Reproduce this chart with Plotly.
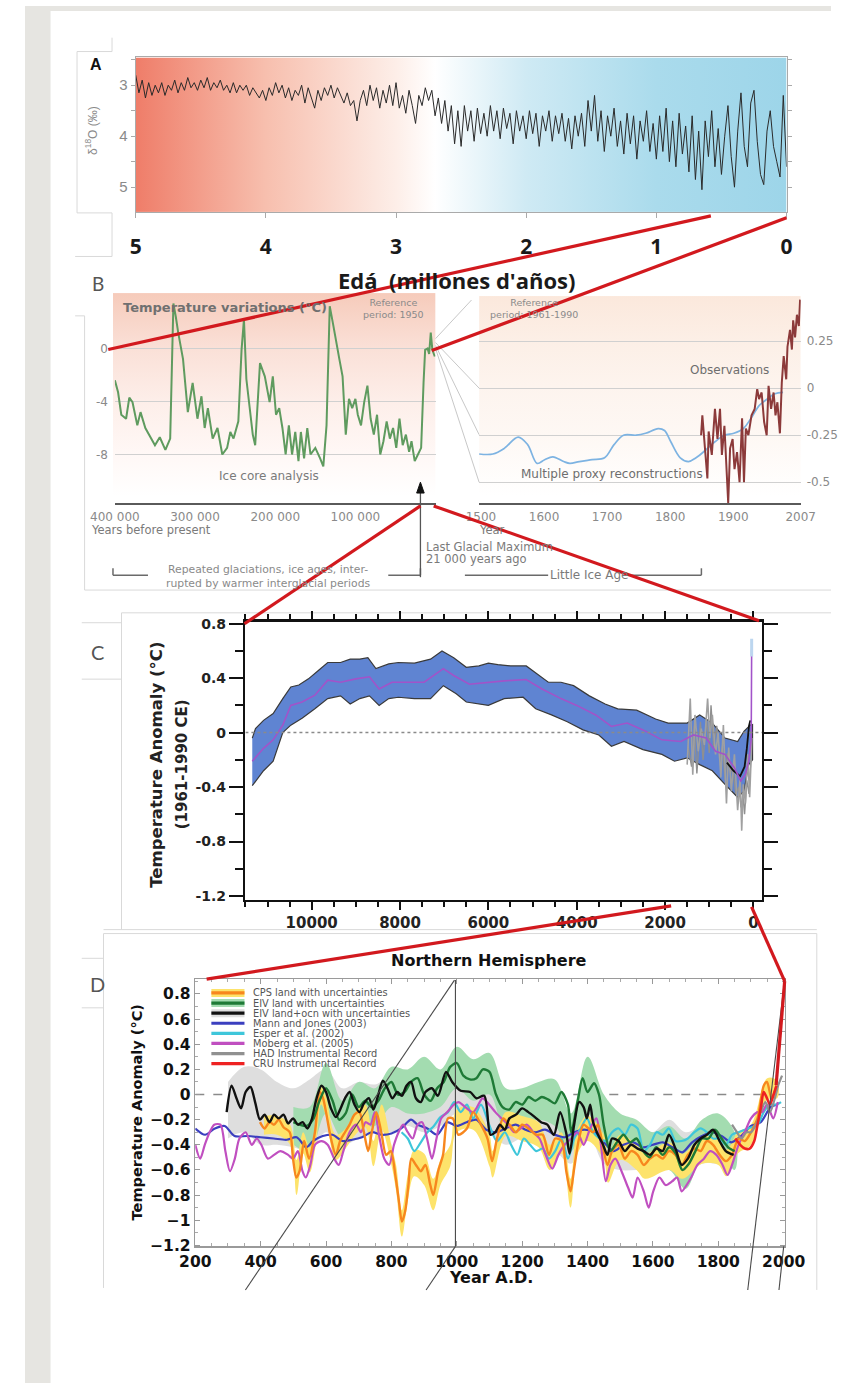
import base64
import numpy as np
import plotly.graph_objects as go

W, H = 852, 1391


def fx(p):
    return p / W


def fy(p):
    return 1 - p / H


# ======================= DATA =======================
# Panel A: benthic d18O stack (per mil), 5 Ma -> 0, step 0.025 Ma
a_d18o = [
    2.8, 3.15, 2.9, 3.25, 2.95, 3.2, 3.0, 3.15, 2.95, 3.2,
    3.0, 3.1, 2.9, 3.15, 2.95, 3.1, 2.85, 3.05, 2.95, 3.1,
    2.9, 3.05, 2.85, 3.1, 2.95, 3.05, 2.9, 3.1, 3.0, 3.15,
    2.95, 3.15, 3.0, 3.1, 3.0, 3.2, 3.05, 3.15, 3.25, 3.1,
    3.3, 3.05, 3.2, 2.95, 3.15, 3.0, 3.25, 3.05, 3.3, 3.1,
    3.2, 3.0, 3.35, 3.05, 3.25, 3.45, 3.1, 3.3, 3.05, 3.2,
    3.0, 3.25, 3.05, 3.2, 3.35, 3.15, 3.4, 3.3, 3.7, 3.3,
    3.1, 3.4, 3.0, 3.3, 3.05, 3.45, 3.1, 3.35, 3.0, 3.4,
    2.95, 3.45, 3.2, 3.55, 3.1, 3.4, 3.75, 3.2, 3.4, 3.05,
    3.3, 3.1, 3.6, 3.25, 3.75, 3.3, 3.9, 3.4, 4.15, 3.5,
    4.2, 3.4, 3.9, 3.5, 4.1, 3.45, 3.95, 3.55, 4.0, 3.4,
    3.9, 3.5, 4.05, 3.45, 3.85, 3.55, 4.15, 3.5, 3.9, 3.6,
    4.05, 3.5, 3.95, 3.55, 4.2, 3.6, 3.9, 3.5, 4.1, 3.6,
    3.95, 3.55, 4.1, 3.65, 4.25, 3.6, 4.0, 3.55, 4.2, 3.3,
    3.9, 3.2, 4.1, 3.5, 4.3, 3.6, 4.0, 3.45, 4.2, 3.7,
    4.35, 3.55, 4.15, 3.6, 4.45, 3.7, 4.1, 3.5, 4.3, 3.75,
    4.45, 3.6, 4.3, 3.45, 4.5, 3.7, 4.6, 3.55, 4.35, 3.8,
    4.7, 3.6, 4.85, 3.9, 5.05, 3.7, 4.4, 3.5, 4.6, 3.85,
    4.75, 4.0, 3.4, 4.4, 5.0, 3.9, 3.15, 4.2, 4.6, 3.35,
    3.1, 4.1, 4.75, 4.95, 3.9, 3.5, 4.2, 4.5, 4.8, 3.2,
    4.6,
]
a_age = np.linspace(5.0, 0.0, len(a_d18o))
a_ticks = [5, 4, 3, 2, 1, 0]

# Panel B left: ice core temperature (thousand years BP, degC)
b_ice_ka = [400, 396, 392, 386, 382, 378, 372, 368, 362, 350,
            344, 337, 331, 327, 324, 321, 315, 309, 303, 297,
            292, 288, 284, 278, 272, 266, 260, 256, 252, 246,
            242, 239, 236, 232, 228, 225, 219, 213, 207, 203,
            199, 195, 191, 187, 183, 179, 175, 171, 168, 164,
            160, 156, 150, 144, 140, 136, 132, 128, 124, 120,
            116, 112, 108, 104, 100, 97, 93, 89, 85, 81,
            77, 73, 69, 65, 61, 57, 53, 49, 45, 41,
            37, 33, 30, 26, 22, 18, 15, 13, 10, 8,
            6, 4, 1]
b_ice_t = [-2.4, -3.3, -5.0, -5.3, -3.7, -4.05, -5.8, -4.8, -6.0, -7.3,
           -6.7, -7.65, -6.8, 3.4, 2.4, 1.2, -0.8, -4.8, -2.6, -5.3,
           -3.6, -6.0, -4.5, -6.8, -6.0, -8.0, -7.5, -6.3, -6.8, -5.5,
           -0.1, 2.2, -2.3, -4.5, -6.5, -7.3, -1.1, -2.1, -4.05, -2.1,
           -5.0, -4.5, -6.0, -8.0, -5.8, -8.0, -6.3, -8.5, -6.3, -8.3,
           -6.0, -8.0, -7.5, -8.3, -8.9, -5.8, 3.2, 1.9, 0.4, -0.8,
           -2.1, -6.5, -3.8, -4.5, -3.8, -5.0, -5.8, -4.05, -2.8, -5.3,
           -6.5, -5.0, -8.0, -7.0, -5.5, -6.8, -6.0, -7.5, -5.3, -7.3,
           -6.5, -7.8, -7.0, -8.5, -8.0, -7.5, -2.6, -0.1, 0.0, -0.4,
           1.2, -0.1, -0.6]
b_left_ticks = [400, 300, 200, 100]
b_left_ticktext = ["400 000", "300 000", "200 000", "100 000"]

# Panel B right: proxy reconstruction and observations (degC)
b_proxy_yr = [1497, 1519, 1537, 1559, 1574, 1589, 1601, 1614, 1631, 1641,
              1656, 1676, 1696, 1711, 1726, 1746, 1761, 1781, 1791, 1801,
              1816, 1829, 1841, 1856, 1871, 1886, 1901, 1916, 1931, 1941,
              1954, 1966, 1979]
b_proxy_t = [-0.35, -0.35, -0.32, -0.26, -0.30, -0.40, -0.38, -0.365, -0.39, -0.40,
             -0.39, -0.38, -0.37, -0.30, -0.25, -0.25, -0.24, -0.215, -0.225, -0.285,
             -0.37, -0.39, -0.37, -0.33, -0.285, -0.25, -0.24, -0.215, -0.145, -0.093,
             -0.058, -0.03, -0.023]
b_obs_yr = [1849, 1851, 1856, 1859, 1861, 1866, 1871, 1875, 1879, 1882,
            1886, 1890, 1892, 1895, 1899, 1902, 1906, 1910, 1914, 1917,
            1920, 1924, 1929, 1934, 1938, 1941, 1945, 1949, 1953, 1956,
            1960, 1964, 1967, 1970, 1974, 1977, 1980, 1984, 1986, 1990,
            1993, 1995, 1998, 2001, 2004, 2006]
b_obs_t = [-0.25, -0.145, -0.355, -0.48, -0.23, -0.355, -0.11, -0.27, -0.11, -0.355,
           -0.20, -0.53, -0.61, -0.32, -0.27, -0.43, -0.34, -0.50, -0.16, -0.50,
           -0.215, -0.25, -0.145, -0.11, -0.005, -0.058, -0.023, -0.18, -0.25, 0.012,
           -0.11, -0.023, -0.145, -0.075, -0.24, 0.03, 0.17, 0.047, 0.22, 0.31,
           0.205, 0.36, 0.27, 0.39, 0.33, 0.47]
b_right_ticks = [1500, 1600, 1700, 1800, 1900, 2007]

# Panel C: Holocene reconstruction (years BP, degC)
c_up_yr = [11345, 11272, 11090, 10872, 10654, 10473, 10290, 10073, 9855, 9637,
           9346, 9128, 8910, 8728, 8546, 8255, 8037, 7674, 7310, 7050,
           6785, 6500, 6214, 6000, 5786, 5500, 5143, 4929, 4643, 4357,
           4071, 3714, 3357, 3071, 2643, 2214, 1930, 1500, 1216, 930,
           643, 357, 214, 71, 20]
c_up = [-0.04, 0.03, 0.09, 0.14, 0.25, 0.335, 0.35, 0.395, 0.455, 0.515,
        0.515, 0.54, 0.54, 0.55, 0.47, 0.505, 0.515, 0.51, 0.54, 0.60,
        0.55, 0.48, 0.49, 0.51, 0.50, 0.49, 0.49, 0.44, 0.37, 0.37,
        0.345, 0.27, 0.21, 0.175, 0.165, 0.10, 0.07, 0.07, 0.13, 0.07,
        -0.04, -0.065, 0.01, 0.055, 0.06]
c_lo_yr = [11345, 11090, 10872, 10654, 10473, 10218, 9928, 9637, 9346, 9128,
           8910, 8692, 8473, 8255, 8037, 7674, 7310, 7019, 6728, 6500,
           6000, 5643, 5214, 4929, 4571, 4214, 3857, 3500, 3214, 2929,
           2500, 2071, 1786, 1500, 1216, 930, 643, 357, 214, 107,
           20]
c_lo = [-0.39, -0.28, -0.21, 0.0, 0.055, 0.105, 0.175, 0.25, 0.27, 0.21,
        0.25, 0.27, 0.20, 0.25, 0.26, 0.25, 0.25, 0.345, 0.285, 0.225,
        0.20, 0.25, 0.26, 0.175, 0.13, 0.08, 0.02, -0.017, -0.10, -0.065,
        -0.125, -0.16, -0.21, -0.185, -0.235, -0.28, -0.38, -0.475, -0.43, -0.235,
        -0.2]
c_mean_yr = [11345, 11090, 10872, 10654, 10473, 10218, 9928, 9637, 9346, 9000,
             8692, 8473, 8182, 7892, 7456, 7019, 6785, 6430, 6000, 5643,
             5143, 4786, 4357, 4000, 3571, 3214, 2857, 2500, 2071, 1643,
             1357, 1071, 857, 643, 429, 286, 179, 107, 50, 40]
c_mean = [-0.21, -0.115, -0.053, 0.055, 0.20, 0.225, 0.275, 0.385, 0.37, 0.395,
          0.41, 0.32, 0.37, 0.37, 0.37, 0.47, 0.42, 0.355, 0.37, 0.38,
          0.39, 0.32, 0.25, 0.20, 0.13, 0.045, 0.07, 0.02, -0.053, -0.065,
          -0.017, -0.04, -0.137, -0.16, -0.26, -0.355, -0.306, -0.21, -0.05, 0.61]
c_gray_yr = [1500, 1430, 1373, 1323, 1250, 1180, 1110, 1037, 987, 930,
             857, 800, 737, 680, 610, 560, 500, 430, 357, 300,
             265, 230, 180, 130, 85, 35]
c_gray = [-0.235, 0.25, -0.31, 0.13, -0.137, 0.03, -0.09, 0.25, -0.04, 0.13,
          -0.16, 0.0, -0.33, 0.055, -0.52, -0.11, -0.43, -0.16, -0.57, -0.33,
          -0.72, -0.38, -0.52, -0.16, -0.475, -0.04]
c_gray2_yr = [1480, 1400, 1340, 1280, 1200, 1140, 1060, 1000, 960, 900,
              830, 760, 700, 640, 590, 520, 470, 400, 330, 280,
              240, 200, 150, 100, 60]
c_gray2 = [-0.1, -0.25, 0.05, -0.3, 0.08, -0.2, 0.1, -0.15, 0.2, -0.1,
           0.05, -0.2, -0.1, -0.35, -0.15, -0.3, -0.25, -0.45, -0.4, -0.55,
           -0.45, -0.6, -0.35, -0.45, -0.2]
c_black_yr = [600, 450, 300, 200, 150, 100, 70]
c_black = [-0.22, -0.28, -0.32, -0.25, -0.12, 0.05, 0.09]
c_spike_yr = [40, 40]
c_spike = [0.56, 0.69]
c_xticks = [10000, 8000, 6000, 4000, 2000, 0]
c_yticks = [0.8, 0.4, 0, -0.4, -0.8, -1.2]
c_yticktext = ["0.8", "0.4", "0", "-0.4", "-0.8", "-1.2"]

# Panel D: Northern Hemisphere reconstructions (year AD, degC)
d_blk_yr = [296, 311, 326, 340, 354, 369, 383, 398, 412, 427,
            441, 455, 470, 484, 499, 514, 528, 543, 556, 571,
            586, 600, 615, 630, 643, 658, 672, 687, 702, 716,
            731, 745, 759, 774, 788, 803, 818, 832, 846, 860,
            875, 890, 904, 924, 942, 967,
            986, 1012, 1041, 1060, 1084, 1103, 1118, 1132, 1147, 1161,
            1181, 1200, 1219, 1239, 1258, 1277, 1297, 1316, 1335, 1345,
            1359, 1374, 1388, 1398, 1408, 1417, 1432, 1446, 1461, 1475,
            1495, 1514, 1533, 1553, 1572, 1591, 1611, 1630, 1649, 1669,
            1688, 1707, 1727, 1746, 1765, 1784, 1804, 1823, 1847]
d_blk = [-0.14, 0.07, -0.03, -0.11, 0.02, 0.06, -0.06, -0.20, -0.16, -0.22,
         -0.16, -0.19, -0.16, -0.23, -0.19, -0.24, -0.22, -0.27, -0.20, -0.03,
         0.07, 0.02, -0.11, -0.18, -0.12, -0.03, 0.02, -0.08, -0.14, -0.07,
         -0.03, -0.12, -0.01, 0.11, 0.05, -0.03, 0.02, -0.01, 0.07, 0.10,
         -0.03, -0.06, 0.02, 0.05, -0.01, 0.18,
         0.10, 0.03, 0.02, -0.03, -0.01, -0.32, -0.30, -0.24, -0.28, -0.19,
         -0.16, -0.11, -0.14, -0.18, -0.22, -0.24, -0.32, -0.14, -0.31, -0.47,
         -0.24, -0.06, -0.10, -0.19, -0.08, -0.22, -0.32, -0.39, -0.48, -0.35,
         -0.37, -0.45, -0.40, -0.43, -0.45, -0.48, -0.43, -0.45, -0.32, -0.43,
         -0.56, -0.51, -0.40, -0.35, -0.32, -0.28, -0.37, -0.45, -0.48]
d_grn_yr = [500, 540, 560, 580, 600, 620, 640, 660, 680, 700,
            720, 740, 760, 780, 800, 820, 840, 860, 880, 900,
            920, 940, 960, 980, 1000, 1020, 1040, 1060, 1080, 1100,
            1120, 1140, 1160, 1180, 1200, 1220, 1240, 1260, 1280, 1300,
            1320, 1340, 1350, 1370, 1385, 1400, 1420, 1435, 1450, 1470,
            1490, 1510, 1530, 1550, 1570, 1590, 1610, 1630, 1650, 1670,
            1690, 1710, 1730, 1750, 1770, 1790, 1810, 1830, 1850]
d_grn = [-0.22, -0.25, -0.2, -0.05, 0.05, -0.05, -0.2, -0.15, 0.0, -0.1,
         -0.05, -0.1, -0.05, 0.05, 0.1, 0.0, 0.02, 0.1, 0.13, 0.0,
         -0.05, 0.05, 0.1, 0.22, 0.25, 0.15, 0.12, 0.13, 0.2, 0.18,
         0.0, -0.1, -0.12, -0.06, -0.08, -0.02, -0.05, -0.02, -0.04, -0.07,
         0.02, -0.08, -0.3, -0.05, 0.13, 0.02, 0.09, 0.0, -0.25, -0.45,
         -0.38, -0.32, -0.38, -0.35, -0.45, -0.5, -0.42, -0.48, -0.42, -0.47,
         -0.6, -0.55, -0.45, -0.35, -0.35, -0.28, -0.35, -0.42, -0.45]
d_org_yr = [398, 412, 427, 441, 455, 470, 489, 499, 509, 519,
            533, 548, 566, 581, 591, 600, 615, 630, 643, 658,
            672, 687, 702, 716, 729, 740, 754, 769, 784, 798,
            813, 823, 832, 842, 852, 861, 875, 890, 904, 919,
            928, 943, 958, 973, 988, 1005,
            1031, 1050, 1074, 1094, 1108, 1123, 1142, 1161, 1181, 1200,
            1219, 1243, 1263, 1282, 1301, 1321, 1335, 1348, 1359, 1374,
            1388, 1403, 1417, 1432, 1446, 1461, 1475, 1495, 1514, 1533,
            1553, 1572, 1591, 1611, 1630, 1649, 1669, 1688, 1707, 1727,
            1746, 1765, 1784, 1804, 1823, 1842, 1862, 1881, 1900, 1920,
            1939, 1949, 1963, 1978]
d_org = [-0.22, -0.27, -0.22, -0.24, -0.20, -0.26, -0.30, -0.51, -0.66, -0.61,
         -0.37, -0.51, -0.30, 0.02, -0.03, -0.14, -0.35, -0.48, -0.37, -0.30,
         -0.24, -0.16, -0.14, -0.30, -0.45, -0.30, -0.14, -0.30, -0.48, -0.45,
         -0.66, -0.85, -1.01, -0.93, -0.72, -0.51, -0.56, -0.61, -0.56, -0.72,
         -0.80, -0.61, -0.48, -0.19, -0.19, -0.32,
         -0.27, -0.14, -0.24, -0.35, -0.53, -0.35, -0.19, -0.24, -0.30, -0.24,
         -0.27, -0.32, -0.32, -0.48, -0.35, -0.37, -0.61, -0.77, -0.59, -0.35,
         -0.24, -0.27, -0.30, -0.24, -0.40, -0.56, -0.45, -0.40, -0.51, -0.45,
         -0.48, -0.56, -0.51, -0.48, -0.51, -0.45, -0.48, -0.56, -0.48, -0.43,
         -0.45, -0.37, -0.40, -0.48, -0.53, -0.48, -0.35, -0.37, -0.30, -0.19,
         0.07, 0.10, -0.03, 0.07]
d_blu_yr = [200, 230, 260, 290, 320, 360, 400, 440, 480, 510,
            540, 560, 590, 620, 650, 680, 710, 740, 770, 800,
            830, 860, 880, 910, 940, 970, 1000, 1030, 1060, 1090,
            1120, 1150, 1180, 1210, 1240, 1270, 1300, 1330, 1360, 1390,
            1420, 1450, 1480, 1510, 1540, 1570, 1600, 1630, 1660, 1690,
            1720, 1750, 1780, 1810, 1840, 1870, 1900, 1930, 1960, 1980]
d_blu = [-0.27, -0.32, -0.27, -0.25, -0.33, -0.33, -0.34, -0.35, -0.36, -0.34,
         -0.42, -0.37, -0.33, -0.32, -0.37, -0.36, -0.34, -0.30, -0.32, -0.31,
         -0.27, -0.20, -0.24, -0.27, -0.32, -0.22, -0.25, -0.22, -0.20, -0.28,
         -0.30, -0.27, -0.24, -0.28, -0.30, -0.28, -0.32, -0.34, -0.30, -0.28,
         -0.30, -0.38, -0.45, -0.40, -0.38, -0.42, -0.40, -0.38, -0.42, -0.46,
         -0.38, -0.33, -0.30, -0.33, -0.38, -0.33, -0.25, -0.22, -0.10, -0.08]
d_cyn_yr = [831, 850, 870, 890, 910, 930, 950, 973, 992, 1012,
            1031, 1050, 1074, 1099, 1123, 1147, 1166, 1185, 1205, 1224,
            1243, 1263, 1282, 1301, 1321, 1340, 1359, 1379, 1398, 1417,
            1437, 1456, 1475, 1495, 1514, 1533, 1553, 1572, 1591, 1611,
            1630, 1649, 1669, 1688, 1707, 1727, 1746, 1765, 1784, 1804,
            1823, 1842, 1862, 1891, 1920, 1939, 1958, 1978, 1992]
d_cyn = [-0.30, -0.35, -0.45, -0.38, -0.30, -0.25, -0.18, -0.14, -0.06, -0.14,
         -0.08, -0.19, -0.08, -0.24, -0.37, -0.30, -0.40, -0.48, -0.35, -0.40,
         -0.45, -0.43, -0.51, -0.45, -0.35, -0.51, -0.35, -0.27, -0.19, -0.30,
         -0.35, -0.37, -0.30, -0.27, -0.32, -0.24, -0.27, -0.45, -0.40, -0.30,
         -0.32, -0.27, -0.37, -0.37, -0.35, -0.30, -0.27, -0.30, -0.35, -0.35,
         -0.40, -0.32, -0.30, -0.27, -0.24, -0.14, -0.08, -0.08, -0.06]
d_mag_yr = [200, 215, 229, 244, 258, 277, 292, 306, 321, 335,
            354, 373, 388, 402, 422, 441, 460, 484, 499, 514,
            528, 538, 552, 566, 586, 605, 625, 639, 653, 672,
            692, 707, 721, 736, 749, 764, 778, 793, 808, 822,
            836, 850, 865, 880, 894, 909, 924, 938, 952, 971,
            991, 1005,
            1050, 1079, 1099, 1118, 1137, 1157, 1176, 1195, 1214, 1234,
            1253, 1272, 1292, 1311, 1330, 1350, 1369, 1388, 1408, 1427,
            1441, 1456, 1470, 1485, 1504, 1524, 1538, 1553, 1572, 1587,
            1601, 1620, 1639, 1659, 1674, 1688, 1703, 1717, 1736, 1756,
            1775, 1794, 1813, 1828, 1842, 1862, 1881, 1900, 1920, 1934,
            1949, 1968, 1982]
d_mag = [-0.40, -0.51, -0.40, -0.30, -0.24, -0.24, -0.45, -0.61, -0.51, -0.35,
         -0.30, -0.40, -0.35, -0.40, -0.51, -0.48, -0.45, -0.48, -0.51, -0.45,
         -0.61, -0.66, -0.56, -0.40, -0.37, -0.40, -0.51, -0.56, -0.45, -0.30,
         -0.24, -0.30, -0.22, -0.24, -0.14, -0.35, -0.51, -0.56, -0.40, -0.30,
         -0.24, -0.30, -0.35, -0.24, -0.22, -0.35, -0.51, -0.35, -0.19, -0.14,
         -0.08, -0.06,
         -0.14, -0.03, -0.08, -0.14, -0.19, -0.24, -0.30, -0.27, -0.24, -0.30,
         -0.35, -0.48, -0.59, -0.48, -0.40, -0.35, -0.30, -0.40, -0.27, -0.19,
         -0.40, -0.69, -0.56, -0.51, -0.61, -0.74, -0.82, -0.66, -0.77, -0.90,
         -0.77, -0.66, -0.72, -0.69, -0.66, -0.77, -0.72, -0.66, -0.56, -0.51,
         -0.45, -0.48, -0.56, -0.64, -0.56, -0.40, -0.30, -0.19, -0.14, -0.14,
         -0.08, -0.19, -0.06]
d_had_yr = [1842, 1857, 1871, 1886, 1900, 1915, 1930, 1944, 1958, 1973, 1983, 1995]
d_had = [-0.24, -0.30, -0.35, -0.30, -0.30, -0.24, -0.14, -0.06, -0.14, -0.03, 0.07, 0.15]
d_cru_yr = [1852, 1867, 1881, 1896, 1910, 1920, 1930, 1939, 1949, 1958, 1968, 1978]
d_cru = [-0.35, -0.40, -0.43, -0.43, -0.37, -0.24, -0.11, 0.02, -0.03, -0.08, -0.01, 0.07]
# uncertainty envelopes
d_gband_yr = [300, 350, 400, 450, 500, 550, 600, 650, 700, 750,
              800, 850, 900, 950, 1000, 1050, 1100, 1150, 1200, 1250,
              1300, 1350, 1400, 1450, 1500, 1550, 1600, 1650, 1700, 1750,
              1800, 1850]
d_gband_hi = [0.1, 0.22, 0.2, 0.1, 0.05, 0.12, 0.2, 0.05, 0.1, 0.08,
              0.15, 0.12, 0.12, 0.15, 0.22, 0.12, 0.05, -0.1, -0.05, -0.08,
              -0.1, -0.25, 0.05, -0.2, -0.25, -0.3, -0.3, -0.2, -0.3, -0.25,
              -0.25, -0.3]
d_gband_lo = [-0.35, -0.3, -0.4, -0.4, -0.42, -0.45, -0.3, -0.4, -0.35, -0.3,
              -0.3, -0.25, -0.3, -0.25, -0.15, -0.2, -0.3, -0.4, -0.35, -0.4,
              -0.45, -0.55, -0.3, -0.55, -0.6, -0.6, -0.6, -0.55, -0.65, -0.55,
              -0.55, -0.55]
d_eband_yr = [500, 550, 600, 650, 700, 750, 800, 850, 900, 950,
              1000, 1050, 1100, 1150, 1200, 1250, 1300, 1350, 1400, 1450,
              1500, 1550, 1600, 1650, 1700, 1750, 1800, 1850]
d_eband_hi = [-0.1, -0.1, 0.25, -0.05, 0.1, 0.05, 0.22, 0.2, 0.3, 0.2,
              0.38, 0.28, 0.33, 0.05, 0.05, 0.1, 0.12, -0.15, 0.3, 0.0,
              -0.15, -0.2, -0.3, -0.25, -0.35, -0.2, -0.15, -0.3]
d_eband_lo = [-0.4, -0.45, -0.15, -0.35, -0.25, -0.25, -0.1, -0.15, -0.15, -0.1,
              0.05, -0.05, 0.0, -0.3, -0.25, -0.2, -0.25, -0.45, -0.15, -0.4,
              -0.5, -0.5, -0.6, -0.6, -0.75, -0.5, -0.45, -0.6]
d_yband_yr = [410, 450, 490, 510, 530, 550, 570, 585, 600, 630,
              660, 690, 720, 745, 770, 800, 815, 832, 850, 870,
              900, 928, 950, 980, 1000, 1050, 1100, 1110, 1150, 1200,
              1250, 1285, 1320, 1348, 1370, 1400, 1450, 1463, 1500, 1550,
              1575, 1650, 1690, 1750, 1800, 1825, 1860, 1900, 1950, 1980]
d_yband_lo = [-0.32, -0.32, -0.4, -0.8, -0.47, -0.62, -0.38, -0.08, -0.18, -0.52,
              -0.43, -0.32, -0.26, -0.57, -0.28, -0.56, -0.78, -1.13, -0.85, -0.65,
              -0.72, -0.92, -0.72, -0.57, -0.3, -0.28, -0.57, -0.66, -0.33, -0.37,
              -0.42, -0.6, -0.47, -0.9, -0.47, -0.37, -0.52, -0.7, -0.52, -0.6,
              -0.67, -0.6, -0.67, -0.55, -0.56, -0.65, -0.47, -0.4, -0.04, -0.03]
d_yband_hi = [-0.17, -0.17, -0.24, -0.52, -0.3, -0.42, -0.22, 0.06, -0.02, -0.32,
              -0.27, -0.14, -0.08, -0.37, -0.08, -0.4, -0.57, -0.92, -0.64, -0.44,
              -0.47, -0.67, -0.52, -0.4, -0.12, -0.1, -0.32, -0.45, -0.14, -0.17,
              -0.22, -0.4, -0.3, -0.67, -0.27, -0.17, -0.32, -0.47, -0.32, -0.4,
              -0.47, -0.38, -0.47, -0.34, -0.35, -0.44, -0.3, -0.24, 0.13, 0.11]
d_legend = ["CPS land with uncertainties", "EIV land with uncertainties",
            "EIV land+ocn with uncertainties", "Mann and Jones (2003)",
            "Esper et al. (2002)", "Moberg et al. (2005)",
            "HAD Instrumental Record", "CRU Instrumental Record"]
d_xticks = [200, 400, 600, 800, 1000, 1200, 1400, 1600, 1800, 2000]
d_yticks = [-1.2, -1.0, -0.8, -0.6, -0.4, -0.2, 0.0, 0.2, 0.4, 0.6, 0.8]
d_yticktext = ["\u22121.2", "\u22121", "\u22120.8", "\u22120.6", "\u22120.4", "\u22120.2",
               "0", "0.2", "0.4", "0.6", "0.8"]

# ======================= STYLE =======================
SANS = "Liberation Sans"
DJ = "DejaVu Sans"
GRAYTXT = "#7a7a7a"
RED = "#d2191e"
C_ORG, C_YEL = "#f7871e", "#fde36b"
C_GRN, C_GRNB = "#1e7a36", "#a3dcb0"
C_BLK, C_GRYB = "#111111", "#dedede"
C_BLU, C_CYN, C_MAG = "#3b3fbf", "#3ec6da", "#c04fc0"
C_HAD, C_CRU = "#909090", "#ee2222"


def grad_img(stops, vertical=False):
    x2, y2 = ("0", "1") if vertical else ("1", "0")
    st = "".join(f'<stop offset="{o}" stop-color="{c}"/>' for o, c in stops)
    svg = ('<svg xmlns="http://www.w3.org/2000/svg" width="200" height="200" '
           'viewBox="0 0 200 200" preserveAspectRatio="none"><defs>'
           f'<linearGradient id="g" x1="0" y1="0" x2="{x2}" y2="{y2}">{st}</linearGradient>'
           '</defs><rect x="0" y="0" width="200" height="200" fill="url(#g)"/></svg>')
    return "data:image/svg+xml;base64," + base64.b64encode(svg.encode()).decode()


def img_px(src, x0, y0, x1, y1):
    return dict(source=src, xref="paper", yref="paper", x=fx(x0), y=fy(y0),
                sizex=(x1 - x0) / W, sizey=(y1 - y0) / H, xanchor="left",
                yanchor="top", sizing="stretch", layer="below")


shapes = []
annots = []


def seg(x0, y0, x1, y1, color, width, dash=None, layer="above"):
    shapes.append(dict(type="line", xref="paper", yref="paper", x0=fx(x0), y0=fy(y0),
                       x1=fx(x1), y1=fy(y1), layer=layer,
                       line=dict(color=color, width=width, dash=dash)))


def txt(x, y, text, size, color, anchor="center", weight="normal", family=SANS, angle=0):
    annots.append(dict(xref="paper", yref="paper", x=fx(x), y=fy(y), text=text,
                       showarrow=False, xanchor=anchor, yanchor="middle", textangle=angle,
                       font=dict(family=family, size=size, color=color, weight=weight)))


fig = go.Figure()

# ---------- Panel A ----------
fig.add_trace(go.Scatter(x=a_age, y=a_d18o, xaxis="x", yaxis="y", mode="lines",
                         line=dict(color="#2a2a2a", width=1)))

# ---------- Panel B ----------
fig.add_trace(go.Scatter(x=b_ice_ka, y=b_ice_t, xaxis="x2", yaxis="y2", mode="lines",
                         line=dict(color="#5f9b5f", width=2)))
fig.add_trace(go.Scatter(x=b_proxy_yr, y=b_proxy_t, xaxis="x3", yaxis="y3", mode="lines",
                         line=dict(color="#7db3e2", width=1.7, shape="spline")))
fig.add_trace(go.Scatter(x=b_obs_yr, y=b_obs_t, xaxis="x3", yaxis="y3", mode="lines",
                         line=dict(color="#8c3a3a", width=2)))

# ---------- Panel C ----------
fig.add_trace(go.Scatter(x=c_up_yr + c_lo_yr[::-1], y=c_up + c_lo[::-1], xaxis="x4", yaxis="y4",
                         mode="lines", fill="toself", fillcolor="#5f84d2",
                         line=dict(color="#3a3a3a", width=1.2)))
fig.add_trace(go.Scatter(x=c_gray2_yr, y=c_gray2, xaxis="x4", yaxis="y4", mode="lines",
                         line=dict(color="#8f8f8f", width=1.4)))
fig.add_trace(go.Scatter(x=c_gray_yr, y=c_gray, xaxis="x4", yaxis="y4", mode="lines",
                         line=dict(color="#a0a0a0", width=1.6)))
fig.add_trace(go.Scatter(x=c_black_yr, y=c_black, xaxis="x4", yaxis="y4", mode="lines",
                         line=dict(color="#111111", width=1.8)))
fig.add_trace(go.Scatter(x=c_mean_yr, y=c_mean, xaxis="x4", yaxis="y4", mode="lines",
                         line=dict(color="#a253c9", width=1.6)))
fig.add_trace(go.Scatter(x=c_spike_yr, y=c_spike, xaxis="x4", yaxis="y4", mode="lines",
                         line=dict(color="#bcd6ef", width=3)))


# ---------- Panel D ----------
def band(xs, hi, lo, color):
    fig.add_trace(go.Scatter(x=list(xs) + list(xs)[::-1], y=list(hi) + list(lo)[::-1],
                             xaxis="x5", yaxis="y5", mode="lines", fill="toself",
                             fillcolor=color, line=dict(width=0, shape="spline")))


def dline(xs, ys, color, width=2.2):
    fig.add_trace(go.Scatter(x=xs, y=ys, xaxis="x5", yaxis="y5", mode="lines",
                             line=dict(color=color, width=width, shape="spline", smoothing=0.8)))


band(d_gband_yr, d_gband_hi, d_gband_lo, C_GRYB)
band(d_eband_yr, d_eband_hi, d_eband_lo, C_GRNB)
band(d_yband_yr, d_yband_hi, d_yband_lo, C_YEL)
dline(d_blu_yr, d_blu, C_BLU)
dline(d_cyn_yr, d_cyn, C_CYN)
dline(d_mag_yr, d_mag, C_MAG)
dline(d_org_yr, d_org, C_ORG, 2.4)
dline(d_grn_yr, d_grn, C_GRN, 2.4)
dline(d_blk_yr, d_blk, C_BLK, 2.4)
dline(d_had_yr, d_had, C_HAD)
dline(d_cru_yr, d_cru, C_CRU, 2.6)

# ---------- backgrounds ----------
images = [
    img_px(grad_img([(0, "#ef7d69"), (0.2, "#f7bfae"), (0.4, "#fdeee8"), (0.46, "#ffffff"),
                     (0.6, "#cfeaf4"), (0.8, "#aadbec"), (1, "#9dd5e9")]), 117, 52, 805, 208),
    img_px(grad_img([(0, "#f6cbbb"), (0.27, "#fae0d7"), (0.53, "#fdeee9"), (0.8, "#fff8f6"),
                     (1, "#ffffff")], vertical=True), 93, 290, 434, 495),
    img_px(grad_img([(0, "#fbe8dc"), (0.22, "#fcefe6"), (0.45, "#fdf4ee"), (0.7, "#fef8f4"),
                     (1, "#ffffff")], vertical=True), 480, 293, 820, 495),
]

# page background strips
shapes.append(dict(type="rect", xref="paper", yref="paper", x0=0, x1=fx(27), y0=0, y1=1,
                   fillcolor="#e6e5e1", line=dict(width=0), layer="below"))
shapes.append(dict(type="rect", xref="paper", yref="paper", x0=0, x1=1, y0=fy(5), y1=1,
                   fillcolor="#e6e5e1", line=dict(width=0), layer="below"))

# faint image borders
FB = "#d9d9d9"
for (x0, y0, x1, y1) in [(92, 32, 92, 46), (55, 46, 92, 46), (55, 46, 55, 209), (55, 209, 92, 209),
                         (92, 209, 92, 253), (53, 253, 92, 253), (53, 313, 63, 313), (63, 313, 63, 590),
                         (63, 590, 852, 590), (102, 613, 852, 613), (60, 623, 102, 623),
                         (60, 680, 102, 680), (102, 613, 102, 933), (83, 933, 837, 933),
                         (83, 937, 837, 937), (83, 937, 83, 1295), (837, 937, 837, 1297),
                         (60, 962, 83, 962), (60, 1012, 83, 1012)]:
    seg(x0, y0, x1, y1, FB, 1, layer="below")

# ---------- Panel A texts ----------
txt(75, 59, "A", 16, "#111", weight="bold")
txt(70, 126, "\u03b4<sup>18</sup>O (\u2030)", 12, "#8a8a8a", angle=-90)
txt(456, 277, "Ed\u00e1\u00a0 (millones d'a\u00f1os)", 22, "#1a1a1a", weight="bold",
    family="Open Sans")

# ---------- Panel B texts ----------
txt(77, 280, "B", 19, "#555", family="Lato")
txt(101, 305, "Temperature variations (\u00b0C)", 13, "#707070", anchor="left", weight="bold", family=DJ)
txt(424, 306, "Reference<br>period: 1950", 9.5, "#8a8a8a", anchor="right", family=DJ)
txt(489, 306, "Reference<br>period: 1961-1990", 9.5, "#8a8a8a", anchor="left", family=DJ)
txt(258, 475, "Ice core analysis", 12, "#7a7a7a", family=DJ)
txt(68, 529, "Years before present", 11.5, GRAYTXT, anchor="left", family=DJ)
txt(422, 547, "Last Glacial Maximum", 11.5, GRAYTXT, anchor="left", family=DJ)
txt(422, 559, "21 000 years ago", 11.5, GRAYTXT, anchor="left", family=DJ)
txt(257, 569, "Repeated glaciations, ice ages, inter-", 10.8, "#8a8a8a", family=DJ)
txt(257, 583, "rupted by warmer interglacial periods", 10.8, "#8a8a8a", family=DJ)
txt(745, 368, "Observations", 12, "#6e6e6e", family=DJ)
txt(621, 473, "Multiple proxy reconstructions", 12, "#6e6e6e", family=DJ)
txt(478, 529, "Year", 11.5, GRAYTXT, anchor="left", family=DJ)
txt(597, 575, "Little Ice Age", 12, "#7a7a7a", family=DJ)
for (x0, y0, x1, y1) in [(93, 568, 93, 575), (93, 575, 130, 575), (384, 575, 418, 575),
                         (418, 575, 418, 568), (465, 575, 553, 575), (641, 575, 715, 575),
                         (715, 575, 715, 568)]:
    seg(x0, y0, x1, y1, "#6a6a6a", 1.5)
seg(418, 577, 418, 490, "#555", 1.3)
# arrow head (Last Glacial Maximum marker)
shapes.append(dict(type="path", xref="paper", yref="paper",
                   path=f"M {fx(414)},{fy(492)} L {fx(422)},{fy(492)} L {fx(418)},{fy(481)} Z",
                   fillcolor="#111", line=dict(color="#111", width=1), layer="above"))
for (yy, ty, xx) in [(297, 336, 472), (386, 340, 480), (433, 343, 480), (481, 346, 480)]:
    seg(434, ty, xx, yy, "#c8c8c8", 1)

# ---------- Panel C texts ----------
txt(77, 653, "C", 20, "#555", family="Lato")
txt(139, 766, "Temperature Anomaly (\u00b0C)", 16.5, "#222", weight="bold", angle=-90, family=DJ)
txt(166, 766, "(1961-1990 CE)", 15, "#222", weight="bold", angle=-90, family=DJ)
shapes.append(dict(type="line", xref="x4", yref="y4", x0=11500, x1=-193, y0=0, y1=0,
                   line=dict(color="#8a8a8a", width=1.5, dash="dot"), layer="above"))

# ---------- Panel D texts ----------
txt(77, 988, "D", 20, "#555", family="Lato")
txt(491, 964, "Northern Hemisphere", 16, "#111", weight="bold", family=DJ)
txt(118, 1118, "Temperature Anomaly (\u00b0C)", 14.5, "#111", weight="bold", angle=-90, family=DJ)
txt(493, 1284, "Year A.D.", 16, "#111", weight="bold", family=DJ)
shapes.append(dict(type="line", xref="x5", yref="y5", x0=200, x1=2003, y0=0, y1=0,
                   line=dict(color="#8a8a8a", width=1.6, dash="dash"), layer="below"))
leg_colors = [(C_ORG, C_YEL), (C_GRN, C_GRNB), (C_BLK, C_GRYB), (C_BLU, None), (C_CYN, None),
              (C_MAG, None), (C_HAD, None), (C_CRU, None)]
leg_y = [997, 1007.2, 1017.4, 1027.6, 1037.8, 1048, 1058.2, 1068.4]
for name, (c, cb), yy in zip(d_legend, leg_colors, leg_y):
    if cb:
        seg(197, yy, 232, yy, cb, 8)
    seg(197, yy, 232, yy, c, 3.2)
    txt(239, yy, name, 9.8, "#555", anchor="left", family=DJ)

# connectors (black, panel D)
for (x0, y0, x1, y1) in [(233, 1297, 454, 984), (455, 984, 455, 1253), (424, 1297, 455, 1253),
                         (764, 1297, 803, 984), (797, 1297, 802, 1253)]:
    seg(x0, y0, x1, y1, "#4a4a4a", 1.1)

# red zoom connectors
for (x0, y0, x1, y1) in [(88, 347, 725, 212), (430, 348, 805, 214), (418, 505, 232, 624),
                         (432, 505, 776, 621), (192, 983, 683, 909), (768, 910, 803, 985),
                         (803, 985, 794, 1090)]:
    seg(x0, y0, x1, y1, RED, 3.2)


# ======================= AXES =======================
def dom_x(a, b):
    return [fx(a), fx(b)]


def dom_y(top, bottom):
    return [fy(bottom), fy(top)]


blk_font = dict(family=DJ, size=15, color="#222", weight="bold")
d_font = dict(family=DJ, size=15.5, color="#111", weight="bold")
b_font = dict(family=DJ, size=12, color="#8a8a8a")

fig.update_layout(
    width=W, height=H, autosize=False,
    margin=dict(l=0, r=0, t=0, b=0, pad=0),
    paper_bgcolor="white", plot_bgcolor="rgba(0,0,0,0)",
    showlegend=False, hovermode=False,
    images=images, shapes=shapes, annotations=annots,
    # Panel A
    xaxis=dict(domain=dom_x(117, 805), range=[5, 0], anchor="y", tickmode="array",
               tickvals=a_ticks, ticktext=[str(t) for t in a_ticks], ticks="outside", ticklen=5,
               tickcolor="#aaa", showline=True, linecolor="#aaa", mirror=True, showgrid=False,
               zeroline=False, ticklabelstandoff=11,
               tickfont=dict(family="Open Sans", size=21, color="#1a1a1a", weight="bold")),
    yaxis=dict(domain=dom_y(52, 208), range=[5.485, 2.456], anchor="x", tickmode="array",
               tickvals=[3, 4, 5], ticktext=["3", "4", "5"], ticks="outside",
               ticklen=4, tickcolor="#aaa",
               minor=dict(tickmode="linear", tick0=0, dtick=0.5, ticks="outside", ticklen=4,
                          tickcolor="#aaa"),
               showline=True, linecolor="#aaa", mirror="ticks",
               showgrid=False, zeroline=False,
               tickfont=dict(family=SANS, size=15, color="#8a8a8a")),
    # Panel B left
    xaxis2=dict(domain=dom_x(95, 434), range=[400, 0], anchor="y2", tickmode="array",
                tickvals=b_left_ticks, ticktext=b_left_ticktext, ticks="", showline=True,
                linecolor="#5a5a5a", linewidth=1.6, showgrid=False, zeroline=False,
                ticklabelstandoff=2, tickfont=b_font),
    yaxis2=dict(domain=dom_y(290, 502), range=[-11.66, 4.19], anchor="x2", tickmode="array",
                tickvals=[0, -4, -8], ticktext=["0", "-4", "-8"], ticks="", showline=False,
                showgrid=True, gridcolor="#d0d0d0", gridwidth=1, zeroline=False,
                ticklabelstandoff=6, tickfont=b_font),
    # Panel B right
    xaxis3=dict(domain=dom_x(480, 820), range=[1497, 2007], anchor="y3", tickmode="array",
                tickvals=b_right_ticks, ticktext=[str(t) for t in b_right_ticks], ticks="",
                showline=True, linecolor="#5a5a5a", linewidth=1.6, showgrid=False,
                zeroline=False, ticklabelstandoff=2, tickfont=b_font),
    yaxis3=dict(domain=dom_y(290, 502), range=[-0.61, 0.505], anchor="x3", side="right",
                tickmode="array", tickvals=[0.25, 0, -0.25, -0.5],
                ticktext=["0.25", "0", "-0.25", "-0.5"], ticks="", showline=False,
                showgrid=True, gridcolor="#d0d0d0", gridwidth=1, zeroline=False,
                ticklabelstandoff=5, tickfont=b_font),
    # Panel C
    xaxis4=dict(domain=dom_x(233, 779), range=[11500, -193], anchor="y4", tickmode="array",
                tickvals=c_xticks, ticktext=[str(t) for t in c_xticks],
                ticks="outside", ticklen=8, tickwidth=2, tickcolor="#111",
                minor=dict(tickmode="linear", tick0=0, dtick=500, ticks="outside", ticklen=5,
                           tickwidth=2, tickcolor="#111"),
                showline=True, linecolor="#111", linewidth=2.5, mirror="ticks", showgrid=False,
                zeroline=False, tickfont=blk_font),
    yaxis4=dict(domain=dom_y(622, 903), range=[-1.229, 0.8146], anchor="x4", tickmode="array",
                tickvals=c_yticks, ticktext=c_yticktext,
                ticks="outside", ticklen=14, tickwidth=2, tickcolor="#111",
                minor=dict(tickmode="linear", tick0=0, dtick=0.2, ticks="outside", ticklen=8,
                           tickwidth=2, tickcolor="#111"),
                showline=True, linecolor="#111", linewidth=2.5, mirror="ticks", showgrid=False,
                zeroline=False, tickfont=dict(family=DJ, size=14, color="#222", weight="bold")),
    # Panel D
    xaxis5=dict(domain=dom_x(180, 803), range=[200, 2003], anchor="y5", tickmode="array",
                tickvals=d_xticks, ticktext=[str(t) for t in d_xticks], ticks="inside",
                ticklen=5, tickcolor="#999",
                minor=dict(tickmode="linear", tick0=0, dtick=50, ticks="inside", ticklen=3,
                           tickcolor="#aaa"),
                showline=True, linecolor="#9a9a9a", linewidth=1.6, mirror="ticks",
                showgrid=False, zeroline=False, tickfont=d_font),
    yaxis5=dict(domain=dom_y(983, 1253), range=[-1.208, 0.918], anchor="x5", tickmode="array",
                tickvals=d_yticks, ticktext=d_yticktext, ticks="inside", ticklen=5,
                tickcolor="#999",
                minor=dict(tickmode="linear", tick0=0, dtick=0.1, ticks="inside", ticklen=3,
                           tickcolor="#aaa"),
                showline=True, linecolor="#9a9a9a", linewidth=1.6, mirror="ticks",
                showgrid=False, zeroline=False, tickfont=d_font),
)

post = (
    "var d=document.getElementById('{plot_id}');"
    "var h=document.documentElement, b=document.body;"
    "h.style.margin='0';h.style.padding='0';h.style.overflow='hidden';"
    "b.style.margin='0';b.style.padding='0';b.style.overflow='hidden';"
    "d.style.position='fixed';d.style.left='0px';d.style.top='0px';"
)
fig.write_html("out.html", config={"displayModeBar": False, "staticPlot": True},
               post_script=post)
